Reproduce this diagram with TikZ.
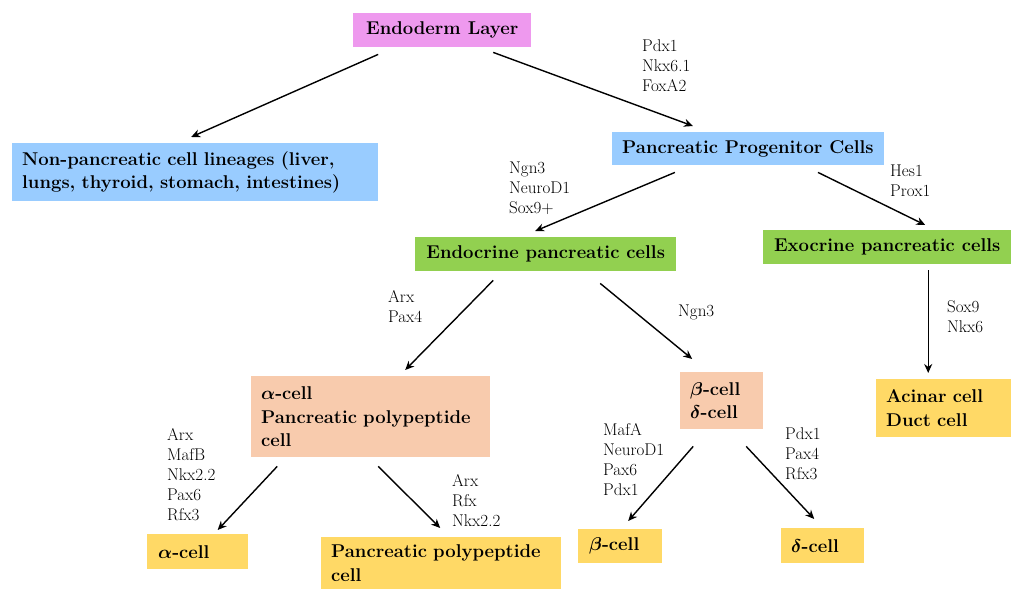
\documentclass[tikz,border=0pt]{standalone}
\usepackage{fix-cm}
\usepackage{fontspec}
\usetikzlibrary{arrows.meta}
\definecolor{endopink}{RGB}{238,153,238}
\definecolor{progblue}{RGB}{153,204,255}
\definecolor{leafgreen}{RGB}{146,208,80}
\definecolor{peach}{RGB}{248,203,173}
\definecolor{gold}{RGB}{255,217,102}
\tikzset{
  cellbox/.style={anchor=north west, inner xsep=10pt, inner ysep=0pt, align=left,
    font=\fontsize{18.5}{23.5}\selectfont\bfseries\boldmath},
  genes/.style={anchor=north west, inner sep=0pt, align=left,
    font=\fontsize{17}{20}\selectfont},
  link/.style={line width=1.4pt, -{Stealth[length=9pt,width=8pt]}}
}
\begin{document}
\begin{tikzpicture}[x=1pt,y=-1pt]
\useasboundingbox (0,0) rectangle (1011,589);
\node[cellbox, fill=endopink, minimum width=178pt, minimum height=34pt] (endo) at (353,13) {Endoderm Layer};
\node[cellbox, fill=progblue, text width=346pt, minimum height=58pt] (nonpan) at (12,143)
  {\mbox{Non-pancreatic cell lineages (liver,}\\\mbox{lungs, thyroid, stomach, intestines)}};
\node[cellbox, fill=progblue, minimum width=266pt, minimum height=33pt] (prog) at (612,132) {Pancreatic Progenitor Cells};
\node[cellbox, fill=leafgreen, minimum width=261pt, minimum height=34pt] (endoc) at (415,237) {Endocrine pancreatic cells};
\node[cellbox, fill=leafgreen, minimum width=248pt, minimum height=34pt] (exoc) at (763,230) {Exocrine pancreatic cells};
\node[cellbox, fill=peach, text width=219pt, minimum height=81pt] (alpp) at (251,376)
  {$\alpha$-cell\\\mbox{Pancreatic polypeptide}\\cell};
\node[cellbox, fill=peach, text width=63pt, minimum height=57pt] (bd) at (680,372) {$\beta$-cell\\$\delta$-cell};
\node[cellbox, fill=gold, text width=115pt, minimum height=58pt] (acinar) at (876,379) {Acinar cell\\Duct cell};
\node[cellbox, fill=gold, text width=79pt, inner xsep=11pt, minimum height=35pt] (acell) at (147,534) {$\alpha$-cell};
\node[cellbox, fill=gold, text width=220pt, minimum height=52pt] (ppcell) at (321,537)
  {\mbox{Pancreatic polypeptide}\\cell};
\node[cellbox, fill=gold, text width=62pt, inner xsep=11pt, minimum height=34pt] (bcell) at (578,529) {$\beta$-cell};
\node[cellbox, fill=gold, text width=63pt, minimum height=35pt] (dcell) at (781,528) {$\delta$-cell};

\node[genes] (pdxg) at (642,40) {Pdx1\\Nkx6.1\\FoxA2};
\node[genes] (ngng) at (509,162) {Ngn3\\NeuroD1\\Sox9+};
\node[genes] (hesg) at (890,165) {Hes1\\Prox1};
\node[genes] (arxg) at (388,290) {Arx\\Pax4};
\node[genes] (ngnbg) at (678,305) {Ngn3};
\node[genes] (soxg) at (947,300) {Sox9\\Nkx6};
\node[genes] (alphag) at (167,428) {Arx\\MafB\\Nkx2.2\\Pax6\\Rfx3};
\node[genes] (ppg) at (452,474) {Arx\\Rfx\\Nkx2.2};
\node[genes] (betag) at (603,423) {MafA\\NeuroD1\\Pax6\\Pdx1};
\node[genes] (deltag) at (785,427) {Pdx1\\Pax4\\Rfx3};

\draw[link] ([shift={(-64,7)}]endo.south) -- ([shift={(-4,-6)}]nonpan.north);
\draw[link] ([shift={(51,5)}]endo.south) -- ([shift={(-55,-6)}]prog.north);
\draw[link] ([shift={(-73,7)}]prog.south) -- ([shift={(-10.5,-6)}]endoc.north);
\draw[link] ([shift={(70,7)}]prog.south) -- ([shift={(38,-5)}]exoc.north);
\draw[link] ([shift={(-52.5,9)}]endoc.south) -- ([shift={(34.5,-6)}]alpp.north);
\draw[link] ([shift={(54.5,12)}]endoc.south) -- ([shift={(-29.5,-13)}]bd.north);
\draw[link] ([shift={(41,6)}]exoc.south) -- ([shift={(-15.5,-6)}]acinar.north);
\draw[link] ([shift={(-93.5,9)}]alpp.south) -- ([shift={(20,-4)}]acell.north);
\draw[link] ([shift={(7.5,9)}]alpp.south) -- ([shift={(-1,-9)}]ppcell.north);
\draw[link] ([shift={(-28.5,17)}]bd.south) -- ([shift={(8,-8)}]bcell.north);
\draw[link] ([shift={(24.5,17)}]bd.south) -- ([shift={(-8.5,-9)}]dcell.north);
\end{tikzpicture}
\end{document}
